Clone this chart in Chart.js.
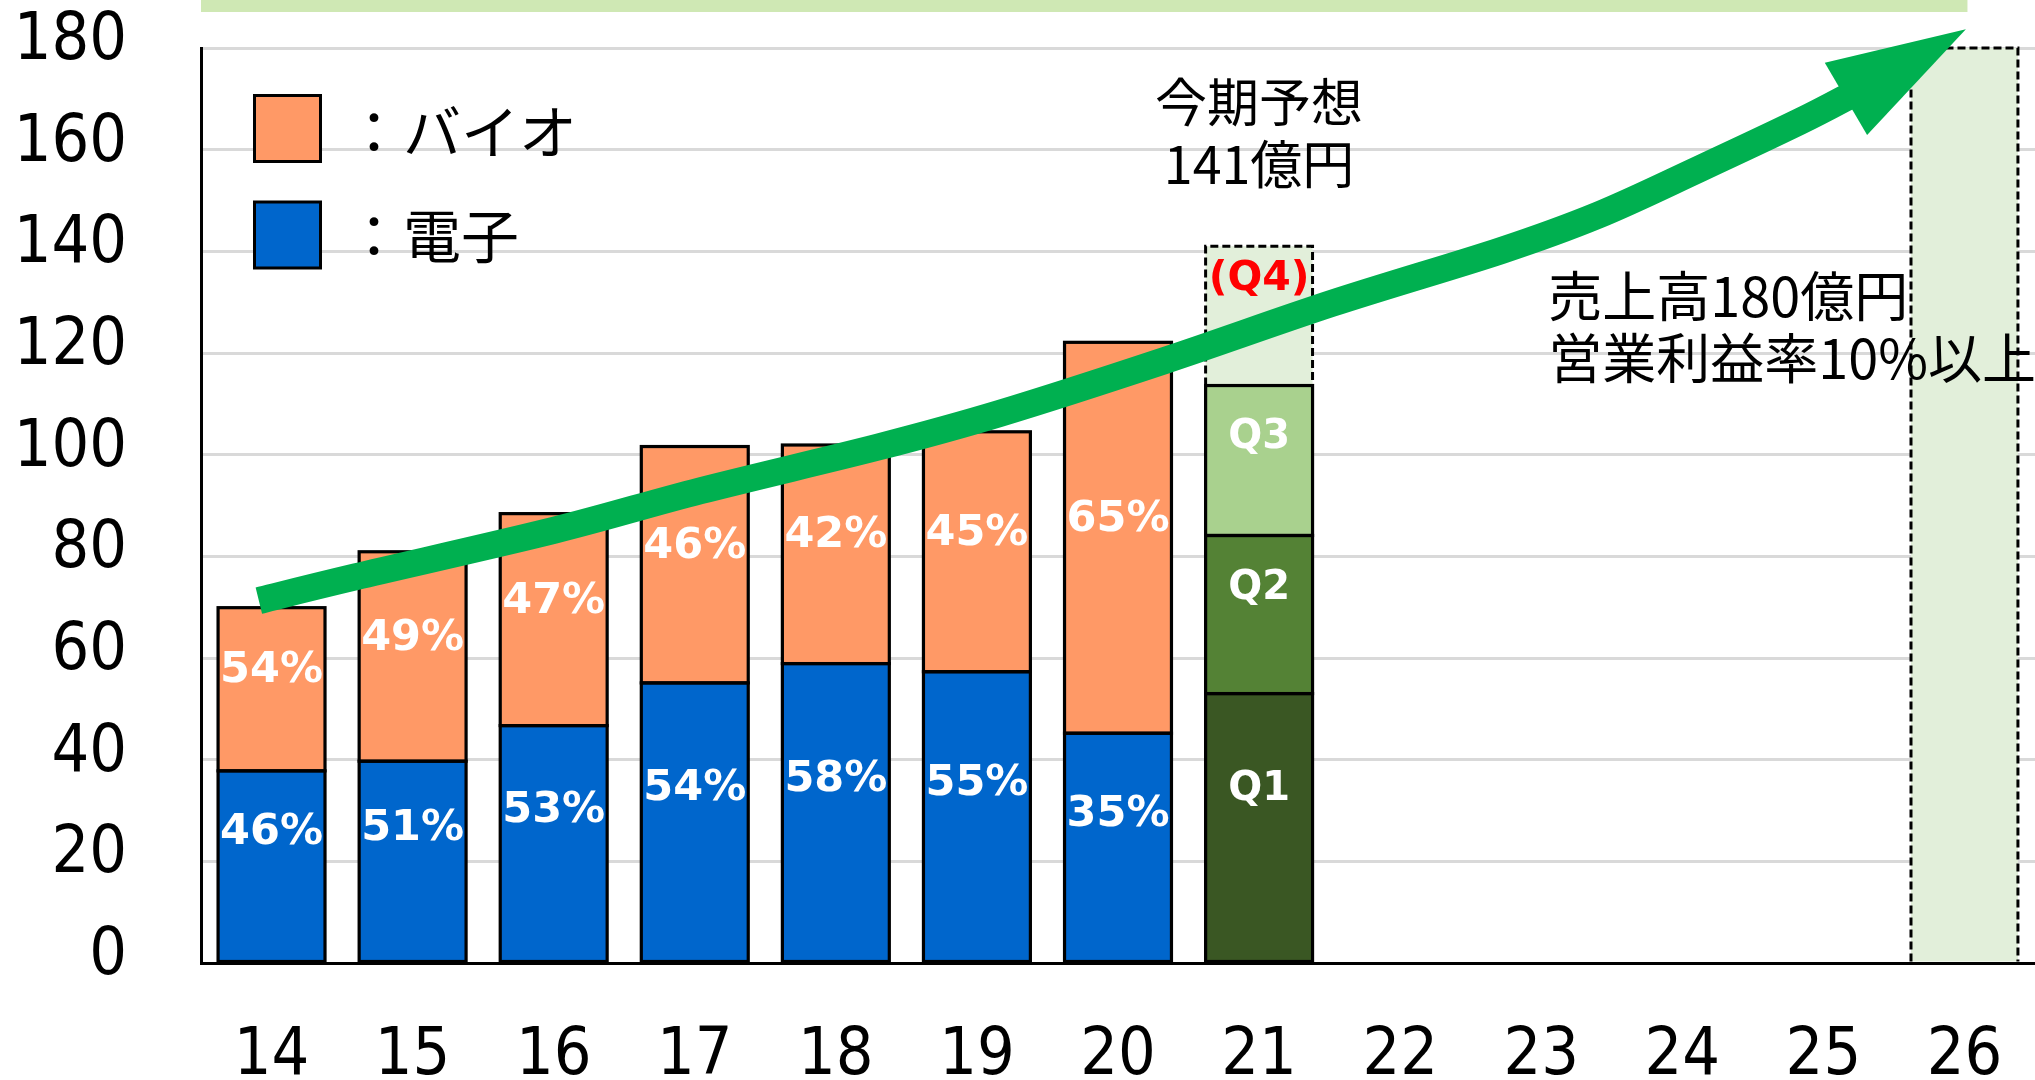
<!DOCTYPE html>
<html lang="ja">
<head>
<meta charset="utf-8">
<title>売上高推移</title>
<script src="https://cdn.jsdelivr.net/npm/chart.js@4.4.1/dist/chart.umd.min.js"></script>
<style>
    html, body { margin: 0; padding: 0; background: #fff; }
    #wrap { position: relative; width: 2035px; height: 1080px; }
</style>
</head>
<body>
<div id="wrap"><canvas id="salesChart"></canvas></div>
<script>
// --- Data ---
const years = ['14', '15', '16', '17', '18', '19', '20', '21', '22', '23', '24', '25', '26'];

// 億円, stacked segments
const denshi = [37.8, 39.7, 46.7, 55.1, 58.9, 57.3, 45.2, null, null, null, null, null, null];
const bio    = [32.1, 41.2, 41.7, 46.5, 43.0, 47.2, 76.9, null, null, null, null, null, null];
const denshiPct = ['46%', '51%', '53%', '54%', '58%', '55%', '35%'];
const bioPct    = ['54%', '49%', '47%', '46%', '42%', '45%', '65%'];

// FY21 by quarter (Q4 = remaining forecast)
const q1 = [null, null, null, null, null, null, null, 53.0, null, null, null, null, null];
const q2 = [null, null, null, null, null, null, null, 31.1, null, null, null, null, null];
const q3 = [null, null, null, null, null, null, null, 29.5, null, null, null, null, null];
const q4 = [null, null, null, null, null, null, null, 27.4, null, null, null, null, null];

// FY26 target
const target = [null, null, null, null, null, null, null, null, null, null, null, null, 180];

const yMin = 0;
const yMax = 180;
const yStep = 20;

// growth arrow, in (category index, value)
const arrowIdx = [-0.09, 0.6, 2.0, 3.04, 4.3, 5.16, 6.34, 7.52, 8.71, 9.41, 10.12, 10.83, 11.2];
const arrowVal = [71.3, 76.0, 85.1, 92.9, 101.5, 108.1, 118.6, 129.8, 140.1, 147.2, 156.2, 165.5, 170.8];
const headIdx = [11.01, 12.01, 11.31];
const headVal = [177.1, 183.7, 162.9];

// --- Style ---
const TICK_FONT = '"DejaVu Sans Condensed", "DejaVu Sans", sans-serif';
const LABEL_FONT = '"DejaVu Sans", Verdana, sans-serif';
const JP_FONT = '"Noto Sans CJK JP", "Noto Sans CJK SC", sans-serif';
const ARROW_GREEN = '#00B050';

// --- Plugin: outlines, arrow, labels, notes ---
const decorPlugin = {
    id: 'decor',
    beforeDraw(chart) {
        const { ctx, chartArea, scales: { x } } = chart;
        ctx.save();
        ctx.fillStyle = '#CFE8B4';
        ctx.fillRect(chartArea.left, 0, x.getPixelForValue(years.length - 1) + 3 - chartArea.left, 12);
        ctx.restore();
    },
    afterDatasetsDraw(chart) {
        const { ctx } = chart;

        // bar outlines (centred on the edges, dashed for forecasts)
        chart.data.datasets.forEach((ds, di) => {
            const meta = chart.getDatasetMeta(di);
            meta.data.forEach((el, i) => {
                if (ds.data[i] == null) return;
                const p = el.getProps(['x', 'y', 'base', 'width'], true);
                const l = p.x - p.width / 2, r = p.x + p.width / 2;
                const t = Math.min(p.y, p.base), b = Math.max(p.y, p.base);
                ctx.save();
                ctx.strokeStyle = '#000';
                if (ds.dashed) {
                    ctx.lineWidth = 3;
                    ctx.setLineDash([8, 4]);
                    ctx.beginPath();
                    ctx.moveTo(l, b);
                    ctx.lineTo(l, t);
                    ctx.lineTo(r, t);
                    ctx.lineTo(r, b);
                    ctx.stroke();
                } else {
                    ctx.lineWidth = 3.2;
                    ctx.strokeRect(l, t, r - l, b - t);
                }
                ctx.restore();
            });
        });

        drawArrow(chart);

        // segment labels
        chart.data.datasets.forEach((ds, di) => {
            if (!ds.segLabels) return;
            const meta = chart.getDatasetMeta(di);
            meta.data.forEach((el, i) => {
                if (ds.data[i] == null || !ds.segLabels[i]) return;
                const p = el.getProps(['x', 'y', 'base'], true);
                ctx.save();
                ctx.font = ds.labelFont;
                ctx.fillStyle = ds.labelColor;
                ctx.textAlign = 'center';
                ctx.textBaseline = 'middle';
                ctx.fillText(ds.segLabels[i], p.x, (p.y + p.base) / 2 + ds.labelDy);
                ctx.restore();
            });
        });
    },
    afterDraw(chart) {
        const { ctx, chartArea, scales: { x, y } } = chart;
        ctx.save();
        ctx.fillStyle = '#000';
        ctx.textBaseline = 'middle';

        // this year's forecast
        ctx.font = '52px ' + JP_FONT;
        ctx.textAlign = 'center';
        ctx.fillText('今期予想', x.getPixelForValue(7), y.getPixelForValue(169.3));
        ctx.fillText('141億円', x.getPixelForValue(7), y.getPixelForValue(157.2));

        // FY26 target note
        ctx.font = '54px ' + JP_FONT;
        ctx.textAlign = 'left';
        ctx.fillText('売上高180億円', x.getPixelForValue(9.05), y.getPixelForValue(131.2));
        ctx.fillText('営業利益率10%以上', x.getPixelForValue(9.05), y.getPixelForValue(118.9));

        // legend
        const legendItems = [chart.data.datasets[1], chart.data.datasets[0]];
        const boxLeft = chartArea.left + 53.5;
        legendItems.forEach((ds, i) => {
            const top = chartArea.top + 47.5 + i * 106.5;
            ctx.fillStyle = ds.backgroundColor;
            ctx.fillRect(boxLeft, top, 66, 66);
            ctx.lineWidth = 3;
            ctx.strokeStyle = '#000';
            ctx.strokeRect(boxLeft, top, 66, 66);
            ctx.fillStyle = '#000';
            ctx.font = '58px ' + JP_FONT;
            ctx.textAlign = 'left';
            ctx.fillText('：' + ds.label, chartArea.left + 144, top + 36 - i * 2);
        });
        ctx.restore();
    }
};

function drawArrow(chart) {
    const { ctx, scales: { x, y } } = chart;
    const pts = arrowIdx.map((v, i) => [x.getPixelForValue(v), y.getPixelForValue(arrowVal[i])]);
    ctx.save();
    ctx.strokeStyle = ARROW_GREEN;
    ctx.lineWidth = 27;
    ctx.lineCap = 'butt';
    ctx.lineJoin = 'round';
    ctx.beginPath();
    ctx.moveTo(pts[0][0], pts[0][1]);
    for (let i = 0; i < pts.length - 1; i++) {
        const p0 = pts[i - 1] || pts[i], p1 = pts[i], p2 = pts[i + 1], p3 = pts[i + 2] || p2;
        ctx.bezierCurveTo(
            p1[0] + (p2[0] - p0[0]) / 6, p1[1] + (p2[1] - p0[1]) / 6,
            p2[0] - (p3[0] - p1[0]) / 6, p2[1] - (p3[1] - p1[1]) / 6,
            p2[0], p2[1]
        );
    }
    ctx.stroke();

    ctx.fillStyle = ARROW_GREEN;
    ctx.beginPath();
    headIdx.forEach((v, i) => {
        const px = x.getPixelForValue(v), py = y.getPixelForValue(headVal[i]);
        if (i === 0) ctx.moveTo(px, py); else ctx.lineTo(px, py);
    });
    ctx.closePath();
    ctx.fill();
    ctx.restore();
}

// --- Chart ---
const pctFont = 'bold 43px ' + LABEL_FONT;
const qFont = 'bold 40px ' + LABEL_FONT;

new Chart(document.getElementById('salesChart'), {
    type: 'bar',
    data: {
        labels: years,
        datasets: [
            { label: '電子', data: denshi, backgroundColor: '#0066CC',
              segLabels: denshiPct, labelFont: pctFont, labelColor: '#fff', labelDy: -33 },
            { label: 'バイオ', data: bio, backgroundColor: '#FF9966',
              segLabels: bioPct, labelFont: pctFont, labelColor: '#fff', labelDy: -18 },
            { label: 'Q1', data: q1, backgroundColor: '#3A5723',
              segLabels: years.map((_, i) => i === 7 ? 'Q1' : ''), labelFont: qFont, labelColor: '#fff', labelDy: -38 },
            { label: 'Q2', data: q2, backgroundColor: '#548235',
              segLabels: years.map((_, i) => i === 7 ? 'Q2' : ''), labelFont: qFont, labelColor: '#fff', labelDy: -26 },
            { label: 'Q3', data: q3, backgroundColor: '#A9D18E',
              segLabels: years.map((_, i) => i === 7 ? 'Q3' : ''), labelFont: qFont, labelColor: '#fff', labelDy: -23 },
            { label: 'Q4', data: q4, backgroundColor: '#E2EFDA', dashed: true,
              segLabels: years.map((_, i) => i === 7 ? '(Q4)' : ''), labelFont: 'bold 41px ' + LABEL_FONT, labelColor: '#FF0000', labelDy: -37 },
            { label: '目標', data: target, backgroundColor: '#E2EFDA', dashed: true }
        ]
    },
    options: {
        responsive: true,
        maintainAspectRatio: false,
        animation: false,
        devicePixelRatio: 1,
        layout: { padding: { top: 48, right: 0, bottom: 0, left: 0 } },
        datasets: {
            bar: { barPercentage: 0.758, categoryPercentage: 1.0, borderWidth: 0, stack: 'all' }
        },
        plugins: {
            legend: { display: false },
            tooltip: { enabled: false }
        },
        scales: {
            x: {
                stacked: true,
                grid: { display: false, drawTicks: false },
                border: { display: true, color: '#000', width: 3 },
                ticks: {
                    color: '#000',
                    font: { family: TICK_FONT, size: 66 },
                    padding: 54,
                    autoSkip: false,
                    maxRotation: 0
                },
                afterFit(scale) {
                    scale.height = 117;
                    scale.paddingLeft = 0;
                    scale.paddingRight = 0;
                }
            },
            y: {
                stacked: true,
                min: yMin,
                max: yMax,
                grid: {
                    color: (c) => (c.tick && c.tick.value === 0 ? 'rgba(0,0,0,0)' : '#D9D9D9'),
                    lineWidth: 3,
                    drawTicks: false
                },
                border: { display: true, color: '#000', width: 3 },
                ticks: {
                    stepSize: yStep,
                    color: '#000',
                    font: { family: TICK_FONT, size: 66 },
                    padding: 74,
                    labelOffset: -6
                },
                afterFit(scale) {
                    scale.width = 201;
                    scale.paddingTop = 0;
                    scale.paddingBottom = 0;
                }
            }
        }
    },
    plugins: [decorPlugin]
});
</script>
</body>
</html>
